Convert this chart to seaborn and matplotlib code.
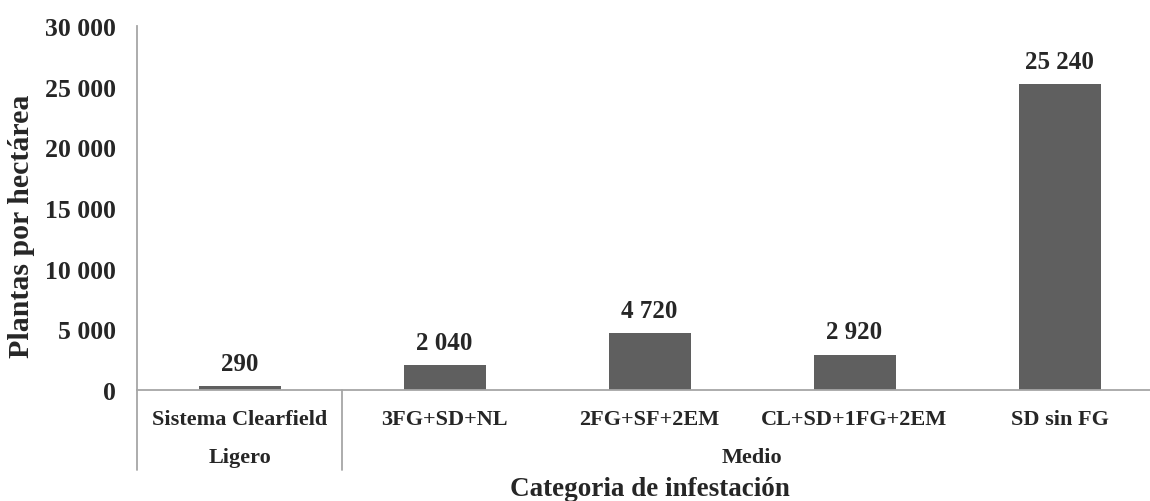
import matplotlib
matplotlib.use("Agg")
import matplotlib.pyplot as plt
import matplotlib.transforms as mtransforms
import seaborn as sns
import pandas as pd

# Data
treatments = ["Sistema Clearfield", "3FG+SD+NL", "2FG+SF+2EM", "CL+SD+1FG+2EM", "SD sin FG"]
plants_per_ha = [290, 2040, 4720, 2920, 25240]
groups = ["Ligero", "Medio"]
group_members = [1, 4]
y_ticks = [0, 5000, 10000, 15000, 20000, 25000, 30000]


def fmt(v):
    return f"{v:,}".replace(",", " ")


sns.set_style("white")
plt.rcParams["font.family"] = ["Liberation Serif", "DejaVu Serif"]
plt.rcParams["font.weight"] = "bold"

W, H = 1150, 502
fig = plt.figure(figsize=(W / 100, H / 100), dpi=100)
# axes in pixel terms: left 137, right 1162, y=0 at 391, top at 27
ax = fig.add_axes([137 / W, (H - 391) / H, 1025 / W, (391 - 27) / H])

df = pd.DataFrame({"trat": treatments, "val": plants_per_ha})
sns.barplot(data=df, x="trat", y="val", color="#5f5f5f", width=0.4,
            saturation=1, ax=ax, edgecolor="none")

ax.set_xlim(-0.5, len(treatments) - 0.5)
ax.set_ylim(0, 30000)
ax.set_yticks(y_ticks)
ax.set_yticklabels([fmt(t) for t in y_ticks], fontsize=18.5, fontweight="bold")
ax.tick_params(axis="y", length=0, pad=15)
ax.tick_params(axis="x", length=0, pad=14, labelsize=16)
for lbl in ax.get_xticklabels():
    lbl.set_fontweight("bold")

ax.set_xlabel("")
ax.set_ylabel("")

for side in ["top", "right"]:
    ax.spines[side].set_visible(False)
for side in ["left", "bottom"]:
    ax.spines[side].set_color("#a6a6a6")
    ax.spines[side].set_linewidth(1.3)

# value labels above bars
ax.bar_label(ax.containers[0], labels=[fmt(v) for v in plants_per_ha],
             padding=8, fontsize=18, fontweight="bold")

# multi-level category axis: separators and group labels centred on their span
trans = mtransforms.blended_transform_factory(ax.transData, ax.transAxes)
bounds = [-0.5]
for n in group_members:
    bounds.append(bounds[-1] + n)
for b in bounds:
    ax.plot([b, b], [0, -0.22], transform=trans, color="#a6a6a6",
            linewidth=1.3, clip_on=False)

for g, lo, hi in zip(groups, bounds[:-1], bounds[1:]):
    ax.text((lo + hi) / 2, -0.184, g, transform=trans, ha="center",
            va="center", fontsize=16, fontweight="bold")

fig.text(650 / W, 1 - 496 / H, "Categoria de infestación", ha="center",
         va="baseline", fontsize=19.5, fontweight="bold")
fig.text(22 / W, 1 - 226 / H, "Plantas por hectárea", ha="center",
         va="center", rotation=90, fontsize=21.5, fontweight="bold")

fig.savefig("out.png", dpi=100)
